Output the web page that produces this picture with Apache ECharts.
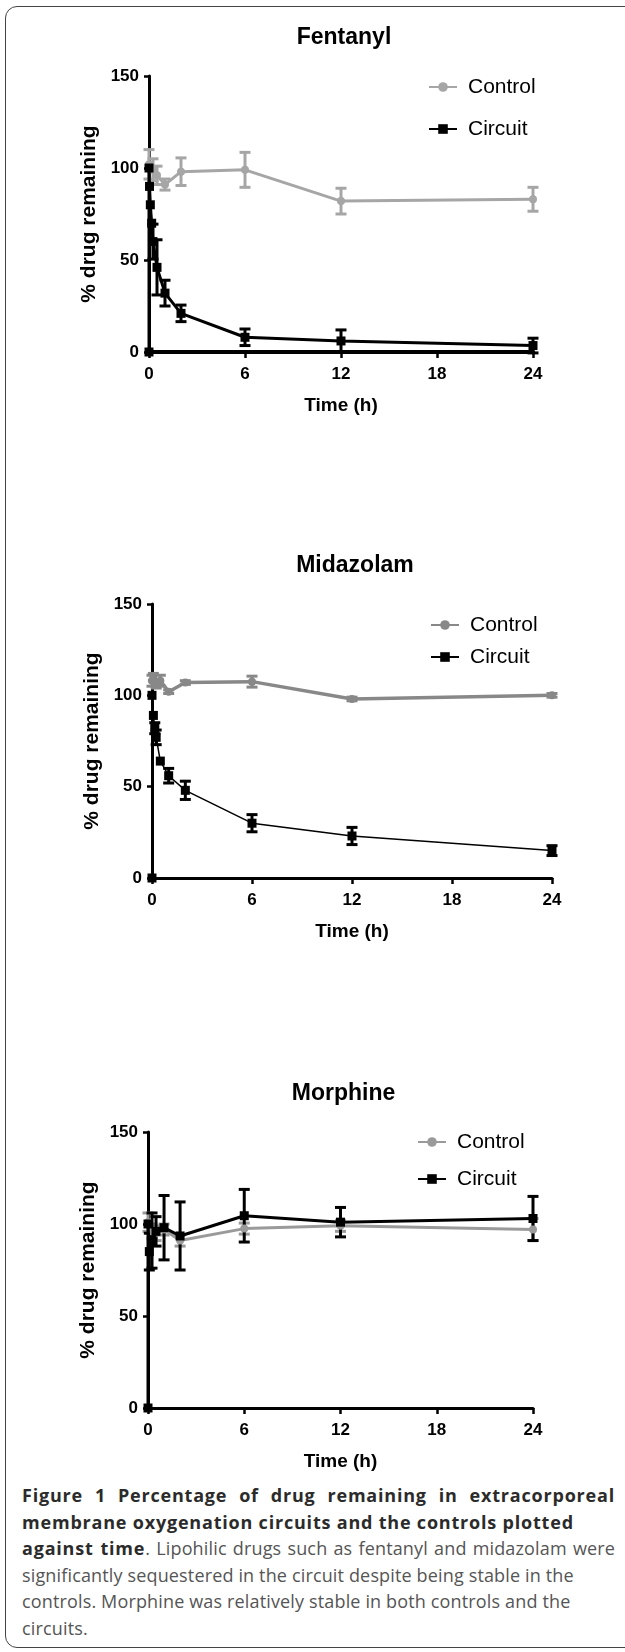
<!DOCTYPE html>
<html>
<head>
<meta charset="utf-8">
<script src="https://cdn.jsdelivr.net/npm/echarts@6/dist/echarts.min.js"></script>
<style>
  html, body { margin: 0; padding: 0; background: #fff; width: 625px; height: 1652px; overflow: hidden; }
  #frame { position: absolute; left: 5px; top: 6px; width: 680px; height: 1642px; border: 1.5px solid #444; border-radius: 12px; box-sizing: border-box; }
  #chart { position: absolute; left: 0; top: 0; width: 625px; height: 1480px; }
  #cap { position: absolute; left: 22px; top: 1482px; width: 593px; font-family: "Open Sans", Lato, sans-serif; font-size: 18px; line-height: 26.5px; color: #555; letter-spacing: 0.15px; }
  #cap b { color: #2b2b2b; font-weight: 700; letter-spacing: 0.8px; }
  #cap div { white-space: nowrap; }
  #cap .j { text-align: justify; text-align-last: justify; white-space: normal; }
</style>
</head>
<body>
<div id="frame"></div>
<div id="chart"></div>
<div id="cap">
  <div class="j"><b>Figure 1 Percentage of drug remaining in extracorporeal</b></div>
  <div><b>membrane oxygenation circuits and the controls plotted</b></div>
  <div class="j"><b>against time</b>. Lipohilic drugs such as fentanyl and midazolam were</div>
  <div>significantly sequestered in the circuit despite being stable in the</div>
  <div>controls. Morphine was relatively stable in both controls and the</div>
  <div>circuits.</div>
</div>
<script>
// ---------- data ----------
const panelTitles = ['Fentanyl', 'Midazolam', 'Morphine'];
const xTicks = [0, 6, 12, 18, 24];
const yTicks = [0, 50, 100, 150];

// Fentanyl
const fenControlT = [0, 0.25, 0.5, 1, 2, 6, 12, 24];
const fenControlV = [102, 99, 96, 91, 98, 99, 82, 83];
const fenControlE = [8, 6, 5, 3, 7.5, 9.5, 7, 6.5];
const fenCircuitT = [0, 0, 0.033, 0.083, 0.167, 0.25, 0.5, 1, 2, 6, 12, 24];
const fenCircuitV = [0, 100, 90, 80, 70, 60, 46, 32, 21, 8, 6, 3.5];
const fenCircuitE = [0, 0, 0, 0, 0, 9.5, 15, 7, 4.5, 4.5, 6, 4];

// Midazolam
const midControlT = [0, 0.083, 0.25, 0.5, 1, 2, 6, 12, 24];
const midControlV = [108, 110, 106, 108, 102, 107, 107.5, 98, 100];
const midControlE = [3, 2, 2, 3, 1, 1, 3, 1, 1];
const midCircuitT = [0, 0, 0.083, 0.167, 0.25, 0.5, 1, 2, 6, 12, 24];
const midCircuitV = [0, 100, 89, 82, 77, 64, 56, 48, 30, 23, 15];
const midCircuitE = [0, 0, 0, 3, 4, 0, 4, 5, 4.7, 4.7, 2.7];

// Morphine
const morControlT = [0, 0.25, 0.5, 1, 2, 6, 12, 24];
const morControlV = [101, 96, 95, 97, 91, 97.5, 99, 97];
const morControlE = [5, 4, 4, 3, 3, 3, 3, 6];
const morCircuitT = [0, 0, 0.083, 0.25, 0.5, 1, 2, 6, 12, 24];
const morCircuitV = [0, 100, 85, 91, 96, 98, 93.5, 104.5, 101, 103];
const morCircuitE = [0, 0, 10, 15, 8, 17.5, 18.5, 14.3, 8, 12];

// ---------- build ----------
const FONT = '"Liberation Sans", Arial, sans-serif';
const panels = [
  { title: panelTitles[0], grid: { left: 149, top: 76, width: 384, height: 276 },
    ctrl: [fenControlT, fenControlV, fenControlE], circ: [fenCircuitT, fenCircuitV, fenCircuitE],
    ctrlColor: '#a6a6a6', ctrlW: 3, circW: 3, xAxisW: 4,
    legend: { left: 423, top: 71, gap: 20 } },
  { title: panelTitles[1], grid: { left: 152, top: 604, width: 400, height: 274 },
    ctrl: [midControlT, midControlV, midControlE], circ: [midCircuitT, midCircuitV, midCircuitE],
    ctrlColor: '#888888', ctrlW: 3.5, circW: 1.5, xAxisW: 3,
    legend: { left: 425, top: 609, gap: 10 } },
  { title: panelTitles[2], grid: { left: 148, top: 1132, width: 385, height: 276 },
    ctrl: [morControlT, morControlV, morControlE], circ: [morCircuitT, morCircuitV, morCircuitE],
    ctrlColor: '#9a9a9a', ctrlW: 3, circW: 3, xAxisW: 3,
    legend: { left: 412, top: 1126, gap: 15 } }
];

function pts(arr) { return arr[0].map((t, i) => [t, arr[1][i]]); }
function errs(arr) { return arr[0].map((t, i) => [t, arr[1][i] - arr[2][i], arr[1][i] + arr[2][i]]).filter((d, i) => arr[2][i] > 0); }

function errSeries(name, idx, data, color) {
  return {
    name: name, type: 'custom', xAxisIndex: idx, yAxisIndex: idx, data: data, z: 3,
    renderItem: function (params, api) {
      const x = api.value(0), lo = api.value(1), hi = api.value(2);
      const p1 = api.coord([x, lo]), p2 = api.coord([x, hi]);
      const w = 5.5;
      const st = { stroke: color, lineWidth: 3 };
      return { type: 'group', children: [
        { type: 'line', shape: { x1: p1[0], y1: p1[1], x2: p2[0], y2: p2[1] }, style: st },
        { type: 'line', shape: { x1: p1[0] - w, y1: p1[1], x2: p1[0] + w, y2: p1[1] }, style: st },
        { type: 'line', shape: { x1: p2[0] - w, y1: p2[1], x2: p2[0] + w, y2: p2[1] }, style: st }
      ]};
    }
  };
}

const option = { animation: false, textStyle: { fontFamily: FONT }, title: [], grid: [], xAxis: [], yAxis: [], legend: [], series: [] };

panels.forEach((p, i) => {
  const g = p.grid;
  option.grid.push({ left: g.left, top: g.top, width: g.width, height: g.height, containLabel: false });
  option.title.push({ text: p.title, left: g.left + g.width / 2 - 2, top: g.top - 55, textAlign: 'center',
    textStyle: { fontFamily: FONT, fontSize: 23, fontWeight: 'bold', color: '#000' } });
  option.xAxis.push({ gridIndex: i, type: 'value', min: 0, max: 24, interval: 6,
    name: 'Time (h)', nameLocation: 'middle', nameGap: 44,
    nameTextStyle: { fontFamily: FONT, fontSize: 19, fontWeight: 'bold', color: '#000' },
    axisLine: { onZero: false, lineStyle: { color: '#000', width: p.xAxisW } },
    axisTick: { show: true, length: 6, lineStyle: { width: 2.5, color: '#000' } },
    axisLabel: { margin: 14, fontFamily: FONT, fontSize: 17, fontWeight: 'bold', color: '#000' },
    splitLine: { show: false } });
  option.yAxis.push({ gridIndex: i, type: 'value', min: 0, max: 150, interval: 50,
    name: '% drug remaining', nameLocation: 'middle', nameGap: 46, nameRotate: 90,
    nameTextStyle: { fontFamily: FONT, fontSize: 21, fontWeight: 'bold', color: '#000' },
    axisLine: { show: true, lineStyle: { color: '#000', width: 3 } },
    axisTick: { show: true, length: 5, lineStyle: { width: 2.5, color: '#000' } },
    axisLabel: { margin: 10, fontFamily: FONT, fontSize: 17, fontWeight: 'bold', color: '#000' },
    splitLine: { show: false } });
  const cn = 'Control#' + i, kn = 'Circuit#' + i;
  option.legend.push({ orient: 'vertical', left: p.legend.left, top: p.legend.top, itemGap: p.legend.gap,
    itemWidth: 28, itemHeight: 12, data: [cn, kn],
    formatter: n => n.replace(/#.*/, ''),
    textStyle: { fontFamily: FONT, fontSize: 21, color: '#000', lineHeight: 22, padding: [0, 0, 0, 6] } });
  option.series.push(errSeries('ctrlErr' + i, i, errs(p.ctrl), p.ctrlColor));
  option.series.push({ name: cn, type: 'line', xAxisIndex: i, yAxisIndex: i, data: pts(p.ctrl), z: 4,
    symbol: 'circle', symbolSize: 8, showSymbol: true,
    lineStyle: { color: p.ctrlColor, width: p.ctrlW }, itemStyle: { color: p.ctrlColor } });
  option.series.push(errSeries('circErr' + i, i, errs(p.circ), '#000'));
  option.series.push({ name: kn, type: 'line', xAxisIndex: i, yAxisIndex: i, data: pts(p.circ), z: 6,
    symbol: 'rect', symbolSize: 9, showSymbol: true,
    lineStyle: { color: '#000', width: p.circW }, itemStyle: { color: '#000' } });
});

const chart = echarts.init(document.getElementById('chart'), null, { renderer: 'canvas' });
chart.setOption(option);
</script>
</body>
</html>
